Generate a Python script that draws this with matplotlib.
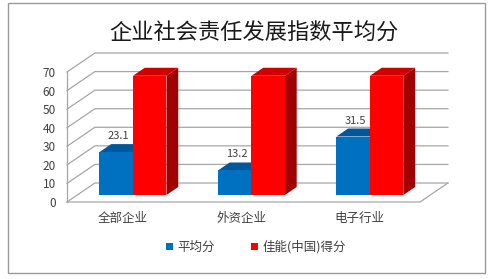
#Recreate the 3D-look bar chart of CSR index averages
import matplotlib
matplotlib.use('Agg')
import matplotlib.pyplot as plt
from matplotlib.patches import Polygon, Rectangle, Patch

plt.rcParams['font.family'] = ['Noto Sans CJK SC', 'DejaVu Sans']

#Data
title = '企业社会责任发展指数平均分'
categories = ['全部企业', '外资企业', '电子行业']
series_names = ['平均分', '佳能(中国)得分']
avg_scores = [23.1, 13.2, 31.5]
canon_scores = [64.2, 64.2, 64.2]
yticks = [0, 10, 20, 30, 40, 50, 60, 70]

#Colours: front, top, side for each series
blue = ('#0070C0', '#00579A', '#004C87')
red = ('#FF0000', '#D00000', '#A00000')
grid_col = '#A6A6A6'
text_col = '#404040'

W, H = 493, 279
fig = plt.figure(figsize=(W/100., H/100.), dpi=100)
fig.patch.set_facecolor('white')

#Outer frame
fig.add_artist(Rectangle((8./W, 1-273./H), 477./W, 270./H, transform=fig.transFigure,
	fill=False, edgecolor='#9A9A9A', linewidth=1.0))

#Front plane of the plot area
xmin, xmax = -0.47, 2.51
ymin, ymax = 0, 70
ax = fig.add_axes([67./W, 1-202./H, 353./W, 130./H])
ax.set_xlim(xmin, xmax)
ax.set_ylim(ymin, ymax)
for s in ax.spines.values():
	s.set_visible(False)
ax.patch.set_alpha(0)

#Depth helper: pixels of depth -> data offsets
px_x = (xmax-xmin)/353.
px_y = (ymax-ymin)/130.
def off(d):
	return d*1.47*px_x, d*px_y

#Walls and gridlines
bx, by = off(19)
for v in yticks:
	ax.plot([xmin, xmin+bx, xmax+bx], [v, v+by, v+by], color=grid_col, lw=0.9, clip_on=False, zorder=1)
ax.plot([xmin, xmin], [0, 70], color=grid_col, lw=0.9, clip_on=False, zorder=1)
ax.plot([xmin, xmax, xmax+bx], [0, 0, by], color=grid_col, lw=0.9, clip_on=False, zorder=1)

#Bars
w = 0.283
fx, fy = off(7)
kx, ky = off(15)
def bar3d(x0, x1, v, cols):
	front = [(x0+fx, fy), (x1+fx, fy), (x1+fx, v+fy), (x0+fx, v+fy)]
	top = [(x0+fx, v+fy), (x1+fx, v+fy), (x1+kx, v+ky), (x0+kx, v+ky)]
	side = [(x1+fx, fy), (x1+kx, ky), (x1+kx, v+ky), (x1+fx, v+fy)]
	for pts, c in ((side, cols[2]), (top, cols[1]), (front, cols[0])):
		ax.add_patch(Polygon(pts, closed=True, facecolor=c, edgecolor='none', clip_on=False, zorder=3))

for i in range(len(categories)):
	bar3d(i-w, i, avg_scores[i], blue)
	bar3d(i, i+w, canon_scores[i], red)
	ax.annotate('%.1f' % avg_scores[i], (i-w/2+fx, avg_scores[i]+ky), xytext=(2.5, 3),
		textcoords='offset pixels', ha='center', va='bottom', fontsize=8, color=text_col, zorder=5)
	ax.annotate('%.1f' % canon_scores[i], (i+w/2+fx, canon_scores[i]+ky), xytext=(10.5, 3),
		textcoords='offset pixels', ha='center', va='bottom', fontsize=8, color=text_col, zorder=5)

#Axes labels
ax.set_yticks(yticks)
ax.set_yticklabels([str(t) for t in yticks])
ax.set_xticks(range(len(categories)))
ax.set_xticklabels(categories)
ax.tick_params(axis='y', length=0, pad=8, labelsize=8.5, labelcolor=text_col)
ax.tick_params(axis='x', length=0, pad=7, labelsize=9, labelcolor=text_col)

#Title
fig.text(254./W, 1-33./H, title, ha='center', va='center', fontsize=16, color='#1A1A1A')

#Legend
handles = [Patch(facecolor=blue[0]), Patch(facecolor=red[0])]
fig.legend(handles, series_names, loc='center', bbox_to_anchor=(256./W, 1-247./H), ncol=2,
	frameon=False, fontsize=9, handlelength=0.55, handleheight=0.55, handletextpad=0.35,
	columnspacing=2.9, labelcolor=text_col)

plt.savefig('out.png', dpi=100)
